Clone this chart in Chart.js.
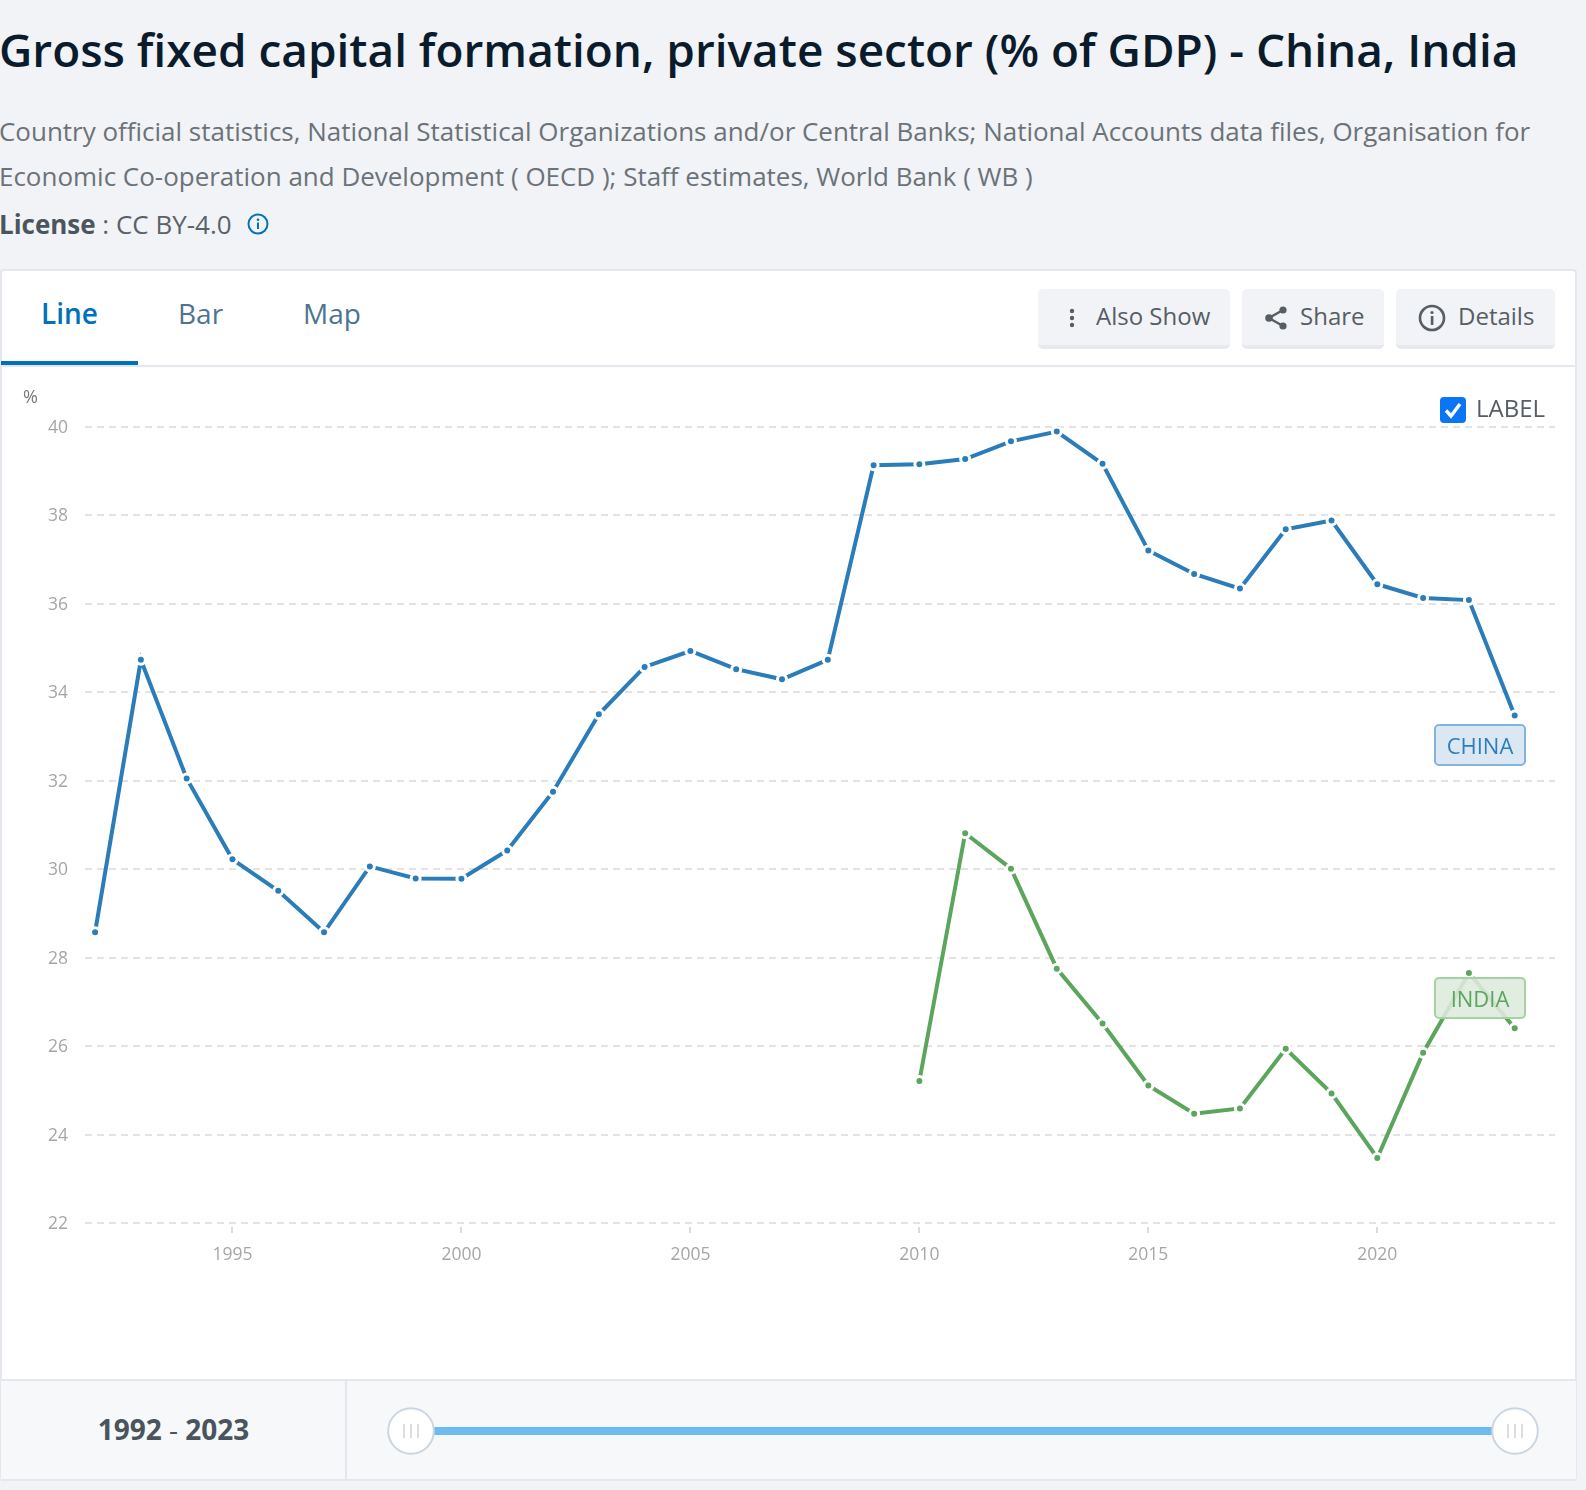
<!DOCTYPE html>
<html>
<head>
<meta charset="utf-8">
<script src="https://cdn.jsdelivr.net/npm/chart.js@4"></script>
<style>
html,body{margin:0;padding:0;background:#f1f3f7;width:1586px;height:1490px;overflow:hidden;font-family:"Open Sans",sans-serif;}
.a{position:absolute;white-space:nowrap;}
#title{left:-1px;top:18px;font-size:45.93px;line-height:62px;font-weight:600;color:#0a1c2c;}
.sub{left:-1px;font-size:25.98px;line-height:36px;color:#6b7278;}
#card{left:0;top:269px;width:1573px;height:1208px;background:#fff;border:2px solid #e4e8ee;border-radius:4px;box-sizing:content-box;}
.tab{font-size:28px;line-height:38px;color:#4d7490;}
.btn{top:289px;height:56px;background:#f1f3f7;border-bottom:4px solid #e7e9ed;border-radius:5px;}
.btxt{top:300px;font-size:24px;line-height:32px;color:#565e64;}
.lab{box-sizing:border-box;border-radius:5px;text-align:center;font-size:22px;height:42px;line-height:38px;width:92px;border:2px solid;}
canvas{position:absolute;left:0;top:366px;}
</style>
</head>
<body>
<div class="a" id="title">Gross fixed capital formation, private sector (% of GDP) - China, India</div>
<div class="a sub" style="top:113px">Country official statistics, National Statistical Organizations and/or Central Banks; National Accounts data files, Organisation for</div>
<div class="a sub" style="top:158px">Economic Co-operation and Development ( OECD ); Staff estimates, World Bank ( WB )</div>
<div class="a sub" style="top:206px;color:#5a6268"><b style="color:#4a555c">License</b> : CC BY-4.0</div>
<svg class="a" style="left:247px;top:213px" width="22" height="22" viewBox="0 0 22 22"><circle cx="11" cy="11" r="9.5" fill="none" stroke="#0071bc" stroke-width="2"/><circle cx="11" cy="6.8" r="1.3" fill="#0071bc"/><rect x="10" y="9.5" width="2" height="6.5" fill="#0071bc"/></svg>

<div class="a" id="card"></div>
<div class="a tab" style="left:41px;top:294px;color:#0071bc;font-weight:600">Line</div>
<div class="a tab" style="left:178px;top:294px">Bar</div>
<div class="a tab" style="left:303px;top:294px">Map</div>
<div class="a" style="left:1px;top:361px;width:137px;height:4px;background:#0071bc"></div>
<div class="a" style="left:1px;top:365px;width:1575px;height:2px;background:#e4e8ee"></div>

<div class="a btn" style="left:1038px;width:192px"></div>
<svg class="a" style="left:1066px;top:306px" width="12" height="24"><circle cx="6" cy="5" r="2.2" fill="#565e64"/><circle cx="6" cy="12" r="2.2" fill="#565e64"/><circle cx="6" cy="19" r="2.2" fill="#565e64"/></svg>
<div class="a btxt" style="left:1096px">Also Show</div>
<div class="a btn" style="left:1242px;width:142px"></div>
<svg class="a" style="left:1264px;top:304px" width="24" height="28"><path d="M5 14L19 6M5 14L19 22" stroke="#565e64" stroke-width="2.4" fill="none"/><circle cx="5" cy="14" r="3.8" fill="#565e64"/><circle cx="19" cy="6" r="3.6" fill="#565e64"/><circle cx="19" cy="22" r="3.6" fill="#565e64"/></svg>
<div class="a btxt" style="left:1300px">Share</div>
<div class="a btn" style="left:1396px;width:159px"></div>
<svg class="a" style="left:1418px;top:304px" width="28" height="28"><circle cx="14" cy="14" r="12" fill="none" stroke="#565e64" stroke-width="2.6"/><circle cx="14" cy="8.5" r="1.6" fill="#565e64"/><rect x="12.8" y="12" width="2.6" height="9" fill="#565e64"/></svg>
<div class="a btxt" style="left:1458px">Details</div>

<svg class="a" style="left:1440px;top:397px;z-index:3" width="26" height="26"><rect width="26" height="26" rx="4" fill="#0a75f5"/><path d="M6 13.5L11 19L20 7" stroke="#fff" stroke-width="3.4" fill="none"/></svg>
<div class="a" style="left:1476px;top:390px;font-size:24px;line-height:36px;color:#565e64;z-index:3">LABEL</div>
<div class="a" style="left:23px;top:384px;font-size:18px;line-height:24px;color:#777;z-index:3">%</div>

<canvas id="c" width="1586" height="1014"></canvas>

<div class="a lab" style="left:1434px;top:724px;background:rgba(215,230,242,.9);border-color:#84b4da;color:#2c7fb8;z-index:3">CHINA</div>
<div class="a lab" style="left:1434px;top:977px;background:rgba(222,234,222,.88);border-color:#a5d2a4;color:#5ba55c;z-index:3">INDIA</div>

<div class="a" style="left:1px;top:1379px;width:1575px;height:102px;background:#f7f8fa;border-top:2px solid #e4e8ee;border-bottom:2px solid #e4e8ee;box-sizing:border-box"></div>
<div class="a" style="left:345px;top:1379px;width:2px;height:102px;background:#e4e8ee"></div>
<div class="a" style="left:2px;width:343px;top:1409px;text-align:center;font-size:28px;line-height:40px;font-weight:700;color:#49545c">1992 <span style="font-weight:400">-</span> 2023</div>
<div class="a" style="left:412px;top:1427px;width:1103px;height:8px;background:#6cbcf0"></div>
<svg class="a" style="left:386px;top:1406px" width="50" height="50"><circle cx="25" cy="25" r="22.8" fill="#fff" stroke="#ccd6e0" stroke-width="2"/><path d="M18 18v14M25 18v14M32 18v14" stroke="#ddd" stroke-width="2"/></svg>
<svg class="a" style="left:1490px;top:1406px" width="50" height="50"><circle cx="25" cy="25" r="22.8" fill="#fff" stroke="#ccd6e0" stroke-width="2"/><path d="M18 18v14M25 18v14M32 18v14" stroke="#ddd" stroke-width="2"/></svg>

<script>
const years = [1992,1993,1994,1995,1996,1997,1998,1999,2000,2001,2002,2003,2004,2005,2006,2007,2008,2009,2010,2011,2012,2013,2014,2015,2016,2017,2018,2019,2020,2021,2022,2023];
const chinaValues = [28.57,34.73,32.05,30.22,29.51,28.57,30.06,29.79,29.78,30.42,31.75,33.50,34.57,34.93,34.52,34.29,34.73,39.13,39.15,39.27,39.67,39.89,39.16,37.20,36.67,36.34,37.68,37.88,36.44,36.13,36.08,33.47];
const indiaYears = [2010,2011,2012,2013,2014,2015,2016,2017,2018,2019,2020,2021,2022,2023];
const indiaValues = [25.21,30.81,30.01,27.75,26.51,25.11,24.47,24.59,25.94,24.93,23.47,25.85,27.65,26.40];
const xTicks = [1995,2000,2005,2010,2015,2020];
const yTicks = [22,24,26,28,30,32,34,36,38,40];

const toXY = (xs, ys) => xs.map((x, i) => ({x, y: ys[i]}));
const lineStyle = color => ({
  borderColor: color, backgroundColor: color, borderWidth: 4,
  pointRadius: 4.5, pointBorderWidth: 3, pointBorderColor: '#fff',
  pointBackgroundColor: color, tension: 0, fill: false
});
const tickFont = {family: '"Open Sans"', size: 17.5};
new Chart(document.getElementById('c'), {
  type: 'line',
  data: { datasets: [
    Object.assign({label: 'China', data: toXY(years, chinaValues)}, lineStyle('#2a7db8')),
    Object.assign({label: 'India', data: toXY(indiaYears, indiaValues)}, lineStyle('#5ba55c'))
  ]},
  options: {
    responsive: false, animation: false, maintainAspectRatio: false, devicePixelRatio: 1,
    layout: { padding: { left: 0, top: 60.7, right: 31, bottom: 117 } },
    plugins: { legend: {display: false}, tooltip: {enabled: false} },
    scales: {
      x: {
        type: 'linear', min: 1991.78, max: 2023.88,
        afterBuildTicks: s => { s.ticks = xTicks.map(v => ({value: v})); },
        afterFit: s => { s.height = 40; },
        border: {display: false},
        grid: {drawOnChartArea: false, drawTicks: true, tickLength: 10, color: '#dcdcdc', lineWidth: 2, tickBorderDash: [0,4,6,100], tickColor: '#dcdcdc', tickWidth: 2},
        ticks: {color: '#a6a6a6', font: tickFont, padding: 12, maxRotation: 0, autoSkip: false, callback: v => String(v)}
      },
      y: {
        min: 22, max: 40,
        afterBuildTicks: s => { s.ticks = yTicks.map(v => ({value: v})); },
        afterFit: s => { s.width = 85; },
        border: {display: false, dash: [7,5]},
        grid: {drawTicks: false, color: '#e3e3e3', lineWidth: 2},
        ticks: {color: '#a6a6a6', font: tickFont, padding: 17, labelOffset: 1, callback: v => String(v)}
      }
    }
  }
});
</script>
</body>
</html>
